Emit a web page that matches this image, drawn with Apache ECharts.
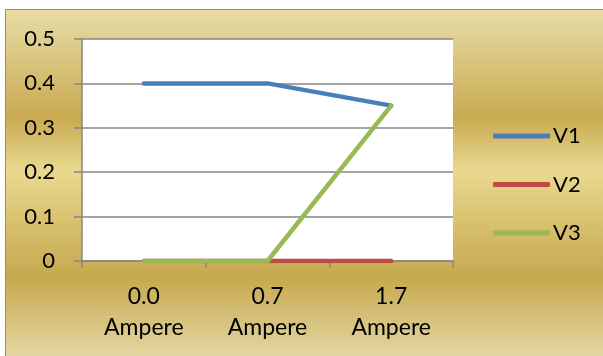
<!DOCTYPE html>
<html>
<head>
<meta charset="utf-8">
<script src="https://cdn.jsdelivr.net/npm/echarts@6/dist/echarts.min.js"></script>
<style>
  html, body { margin: 0; padding: 0; background: #fff; }
  #chart { width: 603px; height: 356px; }
</style>
</head>
<body>
<div id="chart"></div>
<script>
// data
const categories = ['0.0\nAmpere', '0.7\nAmpere', '1.7\nAmpere']
const v1 = [0.4, 0.4, 0.35]
const v2 = [0, 0, 0]
const v3 = [0, 0, 0.35]
const yMin = 0
const yMax = 0.5
const yStep = 0.1

const font = 'Lato, "Open Sans", sans-serif'
const gray = '#868686'

const chart = echarts.init(document.getElementById('chart'))

chart.setOption({
  animation: false,
  graphic: [{
    type: 'rect',
    z: -10,
    shape: { x: 5.5, y: 9.5, width: 620, height: 360 },
    style: {
      fill: new echarts.graphic.LinearGradient(0, 0, 0, 1, [
        { offset: 0, color: '#e8dda6' },
        { offset: 0.3, color: '#c9aa52' },
        { offset: 0.447, color: '#e9d98f' },
        { offset: 0.74, color: '#c7a84f' },
        { offset: 0.97, color: '#e4d8a4' },
        { offset: 1, color: '#e6daa6' }
      ]),
      stroke: '#8c8c8c',
      lineWidth: 1
    }
  }],
  grid: {
    left: 82,
    right: 150,
    top: 39,
    bottom: 95,
    show: true,
    backgroundColor: '#ffffff',
    borderWidth: 0
  },
  legend: {
    orient: 'vertical',
    left: 493,
    top: 124,
    padding: 0,
    icon: 'roundRect',
    itemWidth: 57,
    itemHeight: 5,
    itemGap: 24.5,
    textStyle: {
      fontFamily: font, fontSize: 22, color: '#000',
      lineHeight: 24, padding: [0, 0, 0, -2]
    },
    data: ['V1', 'V2', 'V3']
  },
  xAxis: {
    type: 'category',
    data: categories,
    boundaryGap: true,
    axisLine: { lineStyle: { color: gray, width: 1.5 } },
    axisTick: { show: true, length: 7, lineStyle: { color: gray, width: 1.5 } },
    axisLabel: {
      fontFamily: font,
      fontSize: 23,
      color: '#000',
      lineHeight: 31,
      margin: 20
    }
  },
  yAxis: {
    type: 'value',
    min: yMin,
    max: yMax,
    interval: yStep,
    axisLine: { show: true, lineStyle: { color: gray, width: 1.5 } },
    axisTick: { show: true, length: 8, lineStyle: { color: gray, width: 1.5 } },
    splitLine: { lineStyle: { color: gray, width: 1.5 } },
    axisLabel: {
      fontFamily: font,
      fontSize: 22,
      color: '#000',
      margin: 27,
      formatter: v => (v === 0 ? '0' : v.toFixed(1))
    }
  },
  series: [
    {
      name: 'V1', type: 'line', data: v1, symbol: 'none',
      color: '#4a7ebb', lineStyle: { width: 4.5, cap: 'round', join: 'round' }
    },
    {
      name: 'V2', type: 'line', data: v2, symbol: 'none',
      color: '#be4b48', lineStyle: { width: 4.5, cap: 'round', join: 'round' }
    },
    {
      name: 'V3', type: 'line', data: v3, symbol: 'none',
      color: '#98b954', lineStyle: { width: 4.5, cap: 'round', join: 'round' }
    }
  ]
})
</script>
</body>
</html>
